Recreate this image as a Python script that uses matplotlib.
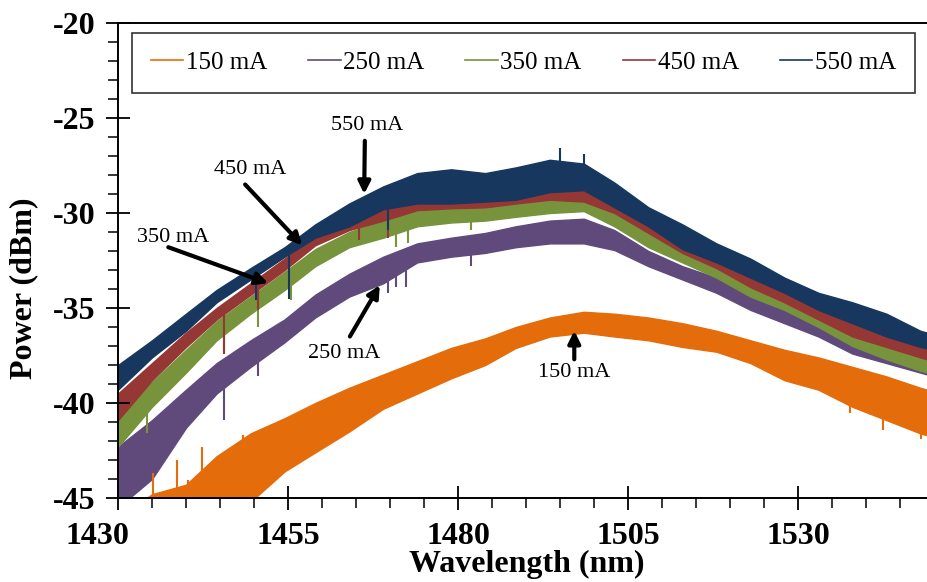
import matplotlib
matplotlib.use("Agg")
import matplotlib.pyplot as plt
import matplotlib.transforms as mtransforms
from matplotlib.lines import Line2D

plt.rcParams['font.family'] = ['Liberation Serif', 'DejaVu Serif']
plt.rcParams['axes.unicode_minus'] = False

wavelength = [1430, 1435, 1440, 1444.5, 1449.5, 1454.5, 1459, 1464, 1469, 1474, 1479, 1484, 1488.5,
              1493.5, 1498.5, 1503, 1508, 1513, 1518, 1523, 1528, 1533, 1538, 1543, 1548, 1550]

# Upper / lower edge of each noisy trace (dBm)
upper_150 = [-46.0, -44.8, -44.3, -42.8, -41.6, -40.8, -40.0, -39.2, -38.5, -37.8, -37.1, -36.6, -36.0,
             -35.5, -35.2, -35.3, -35.5, -35.8, -36.2, -36.7, -37.2, -37.6, -38.1, -38.6, -39.2, -39.4]
lower_150 = [-47.0, -47.0, -46.5, -46.0, -45.2, -43.6, -42.6, -41.5, -40.3, -39.5, -38.7, -38.0, -37.1,
             -36.5, -36.3, -36.5, -36.7, -37.05, -37.3, -37.9, -38.8, -39.3, -40.2, -40.9, -41.6, -41.8]

upper_250 = [-42.3, -40.9, -39.3, -37.9, -36.7, -35.6, -34.3, -33.2, -32.3, -31.6, -31.3, -31.05, -30.7,
             -30.4, -30.3, -30.9, -32.0, -32.8, -33.4, -34.2, -34.9, -35.6, -36.3, -37.0, -37.7, -37.9]
lower_250 = [-45.5, -44.0, -41.3, -39.5, -38.1, -36.8, -35.5, -34.4, -33.7, -32.6, -32.3, -32.1, -31.8,
             -31.6, -31.6, -31.95, -32.8, -33.5, -34.2, -35.1, -35.8, -36.5, -37.4, -37.9, -38.4, -38.6]

upper_350 = [-40.6, -38.9, -37.2, -35.7, -34.4, -33.1, -31.9, -31.0, -30.4, -29.9, -29.7, -29.6, -29.4,
             -29.2, -29.0, -29.8, -30.9, -31.8, -32.6, -33.5, -34.3, -35.1, -36.0, -36.7, -37.3, -37.5]
lower_350 = [-42.3, -40.2, -38.4, -36.7, -35.3, -34.05, -32.8, -31.8, -31.3, -30.7, -30.5, -30.4, -30.2,
             -30.0, -29.9, -30.7, -31.8, -32.6, -33.4, -34.4, -35.1, -36.0, -37.0, -37.7, -38.3, -38.5]

upper_450 = [-39.5, -37.9, -36.3, -35.0, -33.7, -32.4, -31.2, -30.4, -29.7, -29.2, -29.0, -29.0, -28.9,
             -28.6, -28.5, -29.3, -30.3, -31.3, -32.2, -33.1, -34.0, -34.8, -35.6, -36.3, -36.9, -37.1]
lower_450 = [-40.9, -38.8, -37.05, -35.6, -34.3, -33.0, -31.7, -30.9, -30.4, -29.85, -29.75, -29.7, -29.5,
             -29.3, -29.4, -30.0, -31.05, -32.1, -32.9, -33.9, -34.7, -35.6, -36.5, -37.05, -37.6, -37.8]

upper_550 = [-38.0, -36.7, -35.3, -34.05, -32.9, -31.8, -30.6, -29.5, -28.6, -27.9, -27.7, -27.9, -27.6,
             -27.2, -27.4, -28.4, -29.7, -30.6, -31.6, -32.4, -33.4, -34.2, -34.7, -35.3, -36.2, -36.4]
lower_550 = [-39.3, -37.6, -36.2, -34.7, -33.5, -32.3, -31.3, -30.7, -29.8, -29.5, -29.5, -29.4, -29.3,
             -28.9, -28.8, -29.7, -30.7, -31.9, -32.6, -33.4, -34.2, -35.1, -35.8, -36.5, -37.05, -37.2]

# Isolated spikes: wavelength, start level, tip level
spikes_150 = [(1435.1, -45.5, -43.7), (1438.7, -45.5, -43.0), (1440.3, -45.5, -44.05), (1442.4, -45.5, -42.3),
              (1443.8, -45.5, -43.2), (1448.4, -44.5, -41.7), (1449.9, -44.5, -41.6),
              (1537.6, -39.5, -40.5), (1542.5, -40.2, -41.4), (1548.1, -41.0, -41.9)]
spikes_250 = [(1445.6, -39.0, -40.9), (1450.6, -37.6, -38.6), (1469.7, -33.4, -34.2),
              (1470.9, -33.2, -33.9), (1472.4, -32.8, -33.9), (1481.9, -31.9, -32.8)]
spikes_350 = [(1434.3, -39.8, -41.6), (1445.6, -36.4, -37.4), (1450.6, -35.0, -36.0), (1455.4, -33.8, -34.6),
              (1470.9, -31.0, -31.8), (1472.6, -30.8, -31.6), (1481.9, -30.3, -30.9)]
spikes_450 = [(1445.6, -35.3, -37.4), (1450.6, -34.0, -35.1), (1465.4, -30.7, -31.4), (1469.7, -30.2, -31.3)]
spikes_550 = [(1450.3, -33.2, -34.6), (1455.2, -32.0, -34.5), (1469.7, -29.6, -30.9),
              (1495.0, -27.8, -26.6), (1498.6, -27.8, -26.9)]

labels = ['150 mA', '250 mA', '350 mA', '450 mA', '550 mA']
colors = ['#E46C0A', '#604A7B', '#77933C', '#953735', '#17375E']
uppers = [upper_150, upper_250, upper_350, upper_450, upper_550]
lowers = [lower_150, lower_250, lower_350, lower_450, lower_550]
spikes = [spikes_150, spikes_250, spikes_350, spikes_450, spikes_550]

# annotation text position, arrow tail, arrow tip (data units)
notes = [('550 mA', (1466.6, -25.4), (1466.3, -26.2), (1466.2, -29.0)),
         ('450 mA', (1449.4, -27.7), (1448.7, -28.5), (1457.1, -31.7)),
         ('350 mA', (1438.1, -31.3), (1437.4, -31.8), (1452.1, -33.7)),
         ('250 mA', (1463.2, -37.4), (1464.1, -36.5), (1468.5, -33.8)),
         ('150 mA', (1497.1, -38.4), (1497.1, -37.7), (1497.1, -36.2))]

fig = plt.figure(figsize=(9.28, 5.82), dpi=100)
ax = fig.add_axes([118 / 928, 1 - 498 / 582, 816 / 928, 475 / 582])

for lab, col, up, lo, sp in zip(labels, colors, uppers, lowers, spikes):
    ax.fill_between(wavelength, lo, up, color=col, lw=1.0, edgecolor=col)
    ax.vlines([s[0] for s in sp], [s[1] for s in sp], [s[2] for s in sp], color=col, lw=1.5)

for txt, tpos, tail, tip in notes:
    ax.text(tpos[0], tpos[1], txt, fontsize=16, ha='center', va='center')
    ax.annotate('', xy=tip, xytext=tail,
                arrowprops=dict(arrowstyle='-|>', color='black', lw=3, mutation_scale=18,
                                shrinkA=0, shrinkB=0))

ax.set_xlim(1430, 1550)
ax.set_ylim(-45, -20)
ax.set_xticks([1430, 1455, 1480, 1505, 1530])
ax.set_xticks(range(1435, 1550, 5), minor=True)
ax.set_yticks(range(-45, -19, 5))
ax.set_yticks(range(-44, -20, 1), minor=True)
ax.tick_params(which='major', direction='inout', length=17, width=1.3, labelsize=23)
ax.tick_params(axis='x', which='major', pad=9)
ax.tick_params(axis='y', which='major', pad=8)
ax.tick_params(which='minor', direction='out', length=7, width=1.1)
for lbl in ax.get_xticklabels() + ax.get_yticklabels():
    lbl.set_fontweight('bold')
# the first wavelength label sits left of its tick, as in the source
first = ax.get_xticklabels()[0]
first.set_transform(first.get_transform() + mtransforms.ScaledTranslation(-0.21, 0, fig.dpi_scale_trans))
for sp in ax.spines.values():
    sp.set_linewidth(1.4)

ax.set_xlabel('Wavelength (nm)', fontsize=23, fontweight='bold')
ax.xaxis.set_label_coords((527 - 118) / 816, -(550 - 498) / 475)
ax.set_ylabel('Power (dBm)', fontsize=23, fontweight='bold')
ax.yaxis.set_label_coords((38 - 118) / 816, (498 - 288) / 475)

handles = [Line2D([], [], color=c, lw=1.2) for c in colors]
leg = ax.legend(handles, labels, ncol=5, loc='upper left', mode='expand',
                bbox_to_anchor=(14 / 816, 0.855, 783 / 816, (465 - 406) / 475), borderaxespad=0,
                fontsize=18, frameon=True, fancybox=False, edgecolor='black', handlelength=1.3,
                handletextpad=0.1, borderpad=0.75, columnspacing=1.0)
leg.get_frame().set_linewidth(1.2)

fig.savefig('out.png', dpi=100)
